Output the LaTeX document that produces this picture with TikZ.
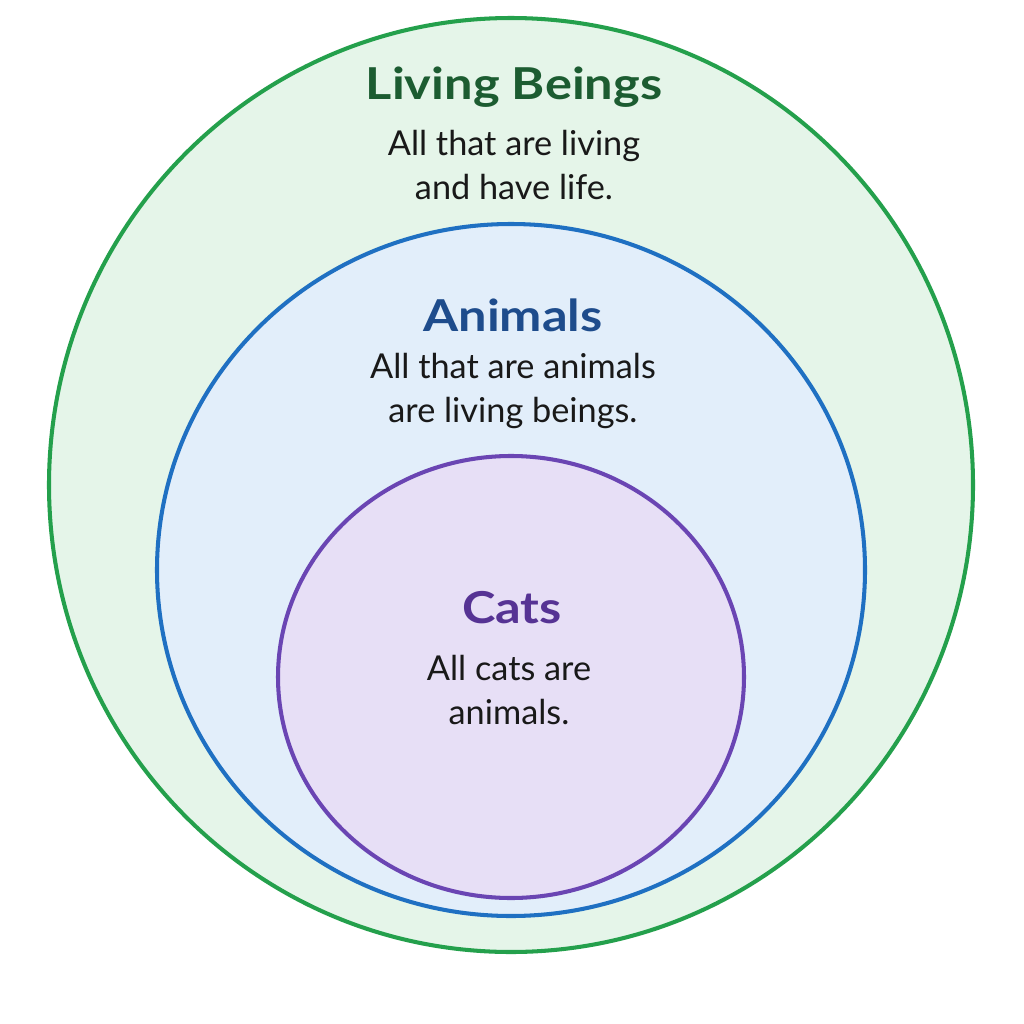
\documentclass[tikz,border=0pt]{standalone}
\usepackage{fontspec}
\setmainfont{Lato}
\newcommand{\widehead}[1]{\scalebox{1.15}[1]{#1}}
\begin{document}
\begin{tikzpicture}[x=0.01cm,y=-0.01cm,
  ring/.style={line width=1.15pt},
  head/.style={font=\fontsize{12.5}{15}\selectfont\bfseries, inner sep=0pt},
  body/.style={font=\fontsize{9.75}{12.3}\selectfont, text=black!90, align=center, inner sep=0pt}]
\definecolor{gfill}{HTML}{E5F5E9}
\definecolor{gline}{HTML}{24A04C}
\definecolor{gtext}{HTML}{1C5C31}
\definecolor{bfill}{HTML}{E2EEFA}
\definecolor{bline}{HTML}{1F70C2}
\definecolor{btext}{HTML}{1E4C8C}
\definecolor{pfill}{HTML}{E7DFF6}
\definecolor{pline}{HTML}{6A45B3}
\definecolor{ptext}{HTML}{563394}
\useasboundingbox (0,0) rectangle (1024,1024);
\fill[white] (0,0) rectangle (1024,1024);
\draw[ring, draw=gline, fill=gfill] (511,485) ellipse [x radius=462, y radius=467];
\draw[ring, draw=bline, fill=bfill] (511,570) ellipse [x radius=354, y radius=346];
\draw[ring, draw=pline, fill=pfill] (511,677) ellipse [x radius=233, y radius=221];
\node[head, text=gtext] (lbh) at (514,87) {\widehead{Living Beings}};
\node[body] (lbt) at (514,165) {All that are living\\and have life.};
\node[head, text=btext] (anh) at (513,315) {\widehead{Animals}};
\node[body] (ant) at (513,391) {All that are animals\\are living beings.};
\node[head, text=ptext] (cah) at (512,608) {\widehead{Cats}};
\node[body] (cat) at (509,690) {All cats are\\animals.};
\end{tikzpicture}
\end{document}
